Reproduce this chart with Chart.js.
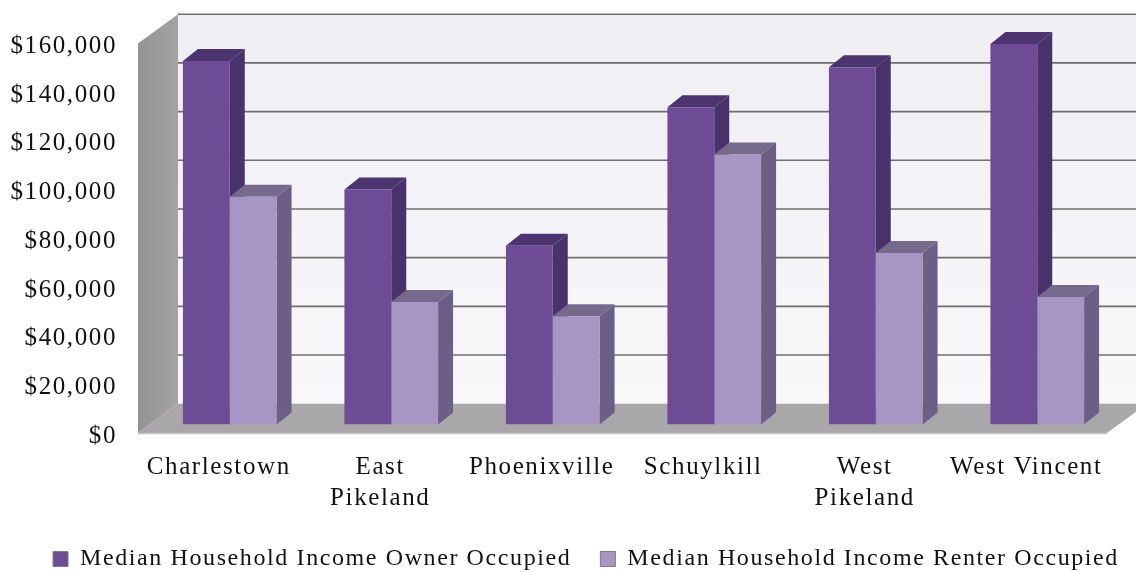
<!DOCTYPE html>
<html>
<head>
<meta charset="utf-8">
<style>
  html, body { margin: 0; padding: 0; background: #fff; }
  #wrap { width: 1136px; height: 572px; }
</style>
<script src="https://cdn.jsdelivr.net/npm/chart.js@4"></script>
</head>
<body>
<div id="wrap"><canvas id="chart" width="1136" height="572"></canvas></div>
<script>
const categories = ["Charlestown", ["East", "Pikeland"], "Phoenixville", "Schuylkill", ["West", "Pikeland"], "West Vincent"];
const ownerIncome = [149300, 96500, 73400, 130300, 146800, 156300];
const renterIncome = [93600, 50300, 44500, 110900, 70500, 52400];
const ownerLabel = "Median Household Income Owner Occupied";
const renterLabel = "Median Household Income Renter Occupied";

const fontFamily = "'Liberation Serif', serif";
const textSpacing = "1.6px";

// how far the back wall and the bars sit behind the axis plane
const wallDepth = { x: 40, y: -29.3 };
const barPlane = { x: 11, y: -8.5 };
const barDepth = { x: 15, y: -12 };

function poly(ctx, pts, fill) {
  ctx.beginPath();
  pts.forEach((p, i) => (i ? ctx.lineTo(p[0], p[1]) : ctx.moveTo(p[0], p[1])));
  ctx.closePath();
  ctx.fillStyle = fill;
  ctx.fill();
}

function extrude(ctx, bar, topColor, sideColor) {
  const l = bar.x - bar.width / 2;
  const r = bar.x + bar.width / 2;
  const t = bar.y;
  const b = bar.base;
  poly(ctx, [[r, t], [r + barDepth.x, t + barDepth.y], [r + barDepth.x, b + barDepth.y], [r, b]], sideColor);
  poly(ctx, [[l, t], [l + barDepth.x, t + barDepth.y], [r + barDepth.x, t + barDepth.y], [r, t]], topColor);
}

const spacingPlugin = {
  id: "spacing",
  beforeLayout(chart) { chart.ctx.letterSpacing = textSpacing; },
  // the legend is not centred on the canvas in the original
  afterLayout(chart) {
    chart.legend.left += 18;
    chart.legend.right += 18;
  },
  beforeDraw(chart) { chart.ctx.letterSpacing = textSpacing; }
};

const wallsPlugin = {
  id: "walls",
  beforeDatasetsDraw(chart) {
    const ctx = chart.ctx;
    const y = chart.scales.y;
    const area = chart.chartArea;
    const dx = wallDepth.x, dy = wallDepth.y;
    const top = y.getPixelForValue(160000);
    const zero = y.getPixelForValue(0);

    // back wall
    const wall = ctx.createLinearGradient(0, top + dy, 0, zero + dy);
    wall.addColorStop(0, "#efeff3");
    wall.addColorStop(1, "#f8f8fb");
    ctx.fillStyle = wall;
    ctx.fillRect(area.left + dx, top + dy, area.width, zero - top);

    // side wall
    const side = ctx.createLinearGradient(area.left, 0, area.left + dx, 0);
    side.addColorStop(0, "#939393");
    side.addColorStop(1, "#a3a3a3");
    poly(ctx, [[area.left, top], [area.left + dx, top + dy], [area.left + dx, zero + dy], [area.left, zero]], side);

    // floor
    poly(ctx, [[area.left, zero], [area.left + dx, zero + dy], [area.right + dx, zero + dy], [area.right, zero]], "#a9a7aa");
    ctx.strokeStyle = "#c4c4c4";
    ctx.lineWidth = 1.5;
    ctx.beginPath();
    ctx.moveTo(area.left, zero + 0.5);
    ctx.lineTo(area.right, zero + 0.5);
    ctx.stroke();

    // grid lines on the back wall
    ctx.strokeStyle = "#6f6f6f";
    ctx.lineWidth = 1.6;
    y.ticks.forEach((tick) => {
      if (tick.value === 0) return;
      const py = y.getPixelForValue(tick.value) + dy;
      ctx.beginPath();
      ctx.moveTo(area.left + dx, py);
      ctx.lineTo(area.right + dx, py);
      ctx.stroke();
    });

    // bars sit in the middle of the floor
    ctx.save();
    ctx.translate(barPlane.x, barPlane.y);
    const owner = chart.getDatasetMeta(0).data;
    const renter = chart.getDatasetMeta(1).data;
    owner.forEach((bar, i) => {
      extrude(ctx, bar, "#4b3470", "#49326b");
      extrude(ctx, renter[i], "#766a8c", "#6c5f85");
    });
  },
  afterDatasetsDraw(chart) {
    chart.ctx.restore();
  }
};

new Chart(document.getElementById("chart"), {
  type: "bar",
  data: {
    labels: categories,
    datasets: [
      { label: ownerLabel, data: ownerIncome, backgroundColor: "#6d4c95" },
      { label: renterLabel, data: renterIncome, backgroundColor: "#a796c3" }
    ]
  },
  options: {
    responsive: false,
    animation: false,
    categoryPercentage: 0.58,
    barPercentage: 1,
    layout: { padding: { top: 43.5, left: 0, right: 0, bottom: -9 } },
    scales: {
      x: {
        grid: { display: false, drawTicks: false },
        border: { display: false },
        ticks: {
          color: "#111",
          maxRotation: 0,
          autoSkip: false,
          padding: 19,
          font: { family: fontFamily, size: 25, lineHeight: 1.25 }
        },
        afterFit(scale) { scale.height = 85; }
      },
      y: {
        min: 0,
        max: 160000,
        grid: { display: false, drawTicks: false },
        border: { display: false },
        ticks: {
          stepSize: 20000,
          color: "#111",
          padding: 21,
          labelOffset: 3,
          font: { family: fontFamily, size: 25 },
          callback: (v) => "$" + v.toLocaleString("en-US")
        },
        afterFit(scale) { scale.width = 138; }
      },
      // empty axis, only keeps room on the right for the wall depth
      rightGap: {
        position: "right",
        min: 0,
        max: 160000,
        grid: { display: false, drawTicks: false },
        border: { display: false },
        ticks: { display: false },
        afterFit(scale) { scale.width = 29; }
      }
    },
    plugins: {
      tooltip: { enabled: false },
      legend: {
        position: "bottom",
        labels: {
          color: "#111",
          boxWidth: 15,
          boxHeight: 15,
          padding: 29,
          font: { family: fontFamily, size: 24 },
          generateLabels(chart) {
            return Chart.defaults.plugins.legend.labels.generateLabels(chart).map((item) => {
              item.strokeStyle = "#7d7d7d";
              item.lineWidth = 1;
              return item;
            });
          }
        }
      }
    }
  },
  plugins: [spacingPlugin, wallsPlugin]
});
</script>
</body>
</html>
